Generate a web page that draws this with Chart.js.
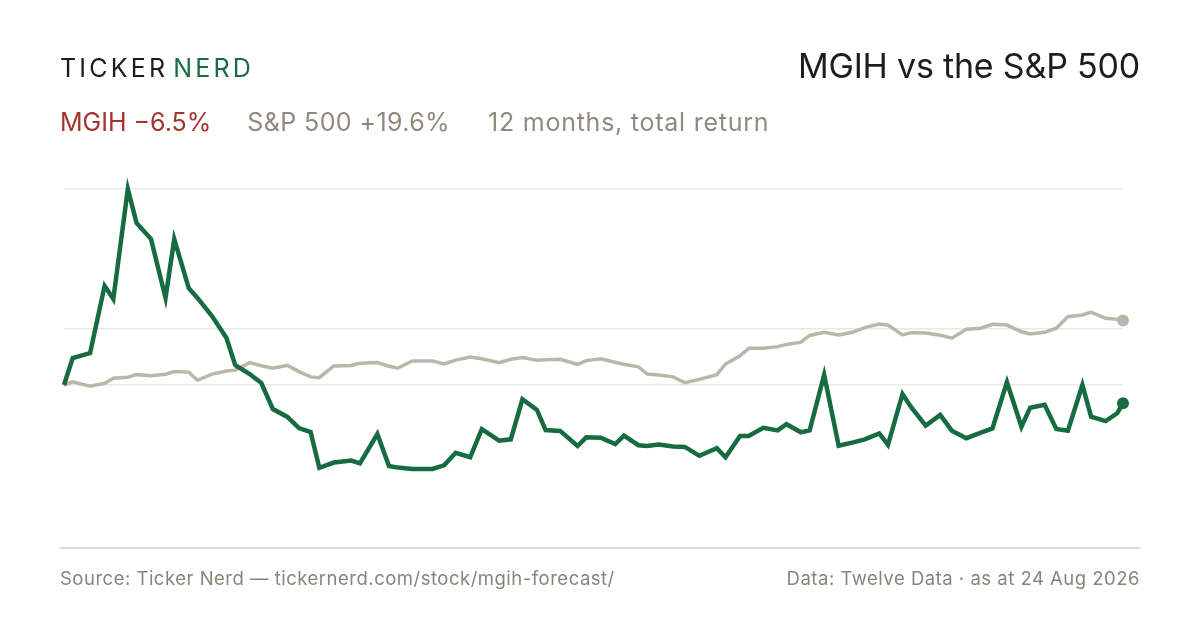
<!DOCTYPE html>
<html>
<head>
<meta charset="utf-8">
<script src="https://cdn.jsdelivr.net/npm/chart.js@4"></script>
<style>
  html, body { margin: 0; padding: 0; background: #fff; }
  #wrap { position: relative; width: 1200px; height: 630px; overflow: hidden; font-family: Inter, "Noto Sans", sans-serif; }
  #chart { position: absolute; left: 0; top: 0; }
  .brand { position: absolute; left: 60px; top: 56px; font-size: 25px; letter-spacing: 3.2px; color: #1c1c1c; line-height: 1; }
  .brand span { color: #1b6b42; margin-left: 5px; }
  .title { position: absolute; right: 60px; top: 49px; font-size: 34px; color: #1d1d1d; line-height: 1; letter-spacing: -0.2px; }
  .sub { position: absolute; left: 60px; top: 110px; font-size: 25px; line-height: 1; color: #8f8a7d; white-space: nowrap; }
  .sub .mg { color: #a5322c; margin-right: 36px; }
  .sub .sp { margin-right: 38px; letter-spacing: 0.4px; }
  .sub .tr { letter-spacing: 0.75px; }
  .rule { position: absolute; left: 60px; width: 1080px; top: 547px; height: 2px; background: #dedbd3; }
  .foot { position: absolute; top: 569px; font-size: 18.5px; letter-spacing: 0.5px; color: #8a8578; line-height: 1; }
</style>
</head>
<body>
<div id="wrap">
  <canvas id="chart" width="1200" height="630"></canvas>
  <div class="brand">TICKER<span>NERD</span></div>
  <div class="title">MGIH vs the S&amp;P 500</div>
  <div class="sub"><span class="mg">MGIH −6.5%</span><span class="sp">S&amp;P 500 +19.6%</span><span class="tr">12 months, total return</span></div>
  <div class="rule"></div>
  <div class="foot" style="left:60px">Source: Ticker Nerd — tickernerd.com/stock/mgih-forecast/</div>
  <div class="foot" style="right:60px">Data: Twelve Data · as at 24 Aug 2026</div>
</div>
<script>
// days since start (24 Aug 2025), one point roughly every 3 trading days
let days = [0, 3, 9, 14, 17, 22, 25, 30, 35, 38, 43, 46, 51, 56, 59, 64, 68, 72, 77, 81,
  85, 88, 93, 99, 102, 108, 112, 115, 120, 127, 131, 135, 140, 144, 150, 154, 158, 163, 166, 171,
  177, 180, 185, 190, 193, 198, 201, 205, 210, 214, 219, 225, 228, 233, 236, 241, 246, 249, 254, 257,
  262, 267, 272, 276, 281, 284, 289, 292, 297, 302, 306, 311, 316, 320, 325, 330, 333, 338, 342, 346,
  351, 354, 359, 363, 365]

// % change from start
let mgih = [0, 9.6, 11.4, 35.4, 30.7, 70.0, 57.9, 52.1, 31.1, 52.1, 34.6, 31.1, 24.6, 16.8, 7.1, 3.9, 0.7, -8.6, -11.4, -15.4,
  -16.8, -29.6, -27.7, -27.0, -28.0, -17.5, -28.9, -29.5, -30.0, -30.0, -28.7, -24.2, -25.8, -15.8, -19.9, -19.4, -5.1, -8.9, -16.1, -16.4,
  -21.8, -18.7, -18.8, -21.1, -18.1, -21.5, -21.8, -21.3, -22.0, -22.1, -25.3, -22.6, -25.8, -18.2, -18.2, -15.3, -16.2, -14.0, -16.9, -16.2,
  3.6, -21.7, -20.5, -19.4, -17.3, -21.4, -3.2, -7.9, -14.5, -10.7, -16.3, -19.0, -17.0, -15.5, 1.0, -14.9, -8.1, -7.1, -15.7, -16.3,
  0.0, -11.3, -12.9, -10.1, -6.5]

let spx = [0, 1.1, -0.4, 0.6, 2.4, 2.8, 3.7, 3.3, 3.8, 4.8, 4.6, 1.7, 3.9, 5.0, 5.3, 8.0, 6.9, 6.0, 7.0, 4.8,
  2.9, 2.6, 6.8, 7.0, 7.8, 8.0, 6.7, 6.0, 8.6, 8.6, 7.5, 8.9, 10.0, 9.4, 8.0, 9.2, 9.8, 8.8, 9.0, 9.2,
  7.4, 8.7, 9.4, 8.1, 7.4, 6.5, 3.9, 3.6, 2.9, 0.8, 2.0, 3.7, 7.5, 10.4, 13.1, 13.1, 13.7, 14.5, 15.3, 17.7,
  18.8, 17.9, 18.9, 20.5, 21.8, 21.4, 17.9, 18.7, 18.6, 17.8, 16.7, 19.9, 20.3, 21.7, 21.4, 19.0, 18.2, 18.8, 20.3, 24.4,
  25.0, 26.0, 23.8, 23.5, 23.0]

let gridTicks = [0, 20, 70]

const GREEN = '#176b40'
const GREY = '#bcb5aa'

function toPoints(vals) {
  return vals.map((v, i) => ({ x: days[i], y: v }))
}

function lastDot(vals, r) {
  return vals.map((v, i) => i == vals.length - 1 ? r : 0)
}

const ctx = document.getElementById('chart').getContext('2d')

new Chart(ctx, {
  type: 'line',
  data: {
    datasets: [
      {
        label: 'MGIH',
        data: toPoints(mgih),
        borderColor: GREEN,
        backgroundColor: GREEN,
        borderWidth: 4.5,
        pointRadius: lastDot(mgih, 6),
        pointBorderWidth: 0,
        tension: 0,
        clip: false
      },
      {
        label: 'S&P 500',
        data: toPoints(spx),
        borderColor: GREY,
        backgroundColor: GREY,
        borderWidth: 3.5,
        pointRadius: lastDot(spx, 6),
        pointBorderWidth: 0,
        tension: 0,
        clip: false
      }
    ]
  },
  options: {
    responsive: false,
    animation: false,
    devicePixelRatio: 1,
    layout: { padding: { left: 64, right: 77, top: 189, bottom: 161 } },
    plugins: { legend: { display: false }, tooltip: { enabled: false } },
    scales: {
      x: { type: 'linear', min: 0, max: 365, display: false },
      y: {
        min: -30,
        max: 70,
        ticks: { display: false },
        border: { display: false },
        grid: { color: '#ebe8e2', lineWidth: 1.5, drawTicks: false },
        afterBuildTicks: s => { s.ticks = gridTicks.map(v => ({ value: v })) },
        afterFit: s => { s.width = 0 }
      }
    }
  }
})
</script>
</body>
</html>
